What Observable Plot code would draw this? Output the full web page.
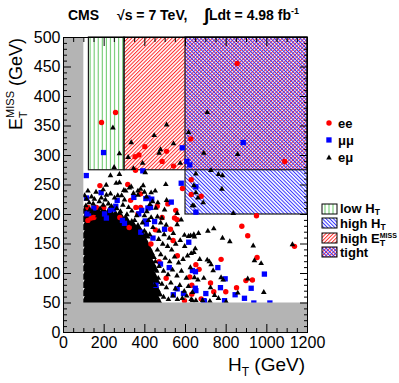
<!DOCTYPE html>
<html><head><meta charset="utf-8">
<script src="https://cdn.jsdelivr.net/npm/d3@7"></script>
<script src="https://cdn.jsdelivr.net/npm/@observablehq/plot@0.6"></script>
<style>
html,body{margin:0;padding:0;background:#fff;}
#wrap{position:relative;width:399px;height:383px;overflow:hidden;font-family:"Liberation Sans",Arial,sans-serif;}
#wrap svg{position:absolute;left:0;top:0;}
</style></head><body>
<svg width="0" height="0" style="position:absolute">
 <defs>
  <pattern id="hatchRed" x="0" y="0" width="2.6" height="4" patternUnits="userSpaceOnUse" patternTransform="rotate(45)">
   <rect x="0" y="0" width="1" height="4" fill="rgb(255,40,40)"/>
  </pattern>
  <pattern id="hatchBlue" x="0" y="0" width="2.6" height="4" patternUnits="userSpaceOnUse" patternTransform="rotate(-45)">
   <rect x="0" y="0" width="1" height="4" fill="rgb(50,50,255)"/>
  </pattern>
 </defs>
</svg>
<div id="wrap"></div>
<script>
// ---- data (HT, MET in GeV) ----
const vetoHT = 100;      // HT < 100 GeV region (grey)
const vetoMET = 50;      // MET < 50 GeV region (grey)
const lowHTBox  = {x1: 125, x2: 300,  y1: 275, y2: 500};
const highMETBox = {x1: 300, x2: 1200, y1: 275, y2: 500};
const highHTBox = {x1: 600, x2: 1200, y1: 200, y2: 500};

const eePoints = [
 [854,456],[256,373],[187,356],[400,315],[626,328],[507,307],[371,301],[352,298],[1088,290],[485,290],[541,282],[354,275],
 [179,249],[316,251],[585,244],[356,212],[162,212],[552,207],[136,194],[120,190],[366,201],[546,194],[526,175],[323,178],
 [628,259],[628,234],[677,231],[949,198],[877,180],[906,164],[1136,146],[775,124],[952,127],[651,115],[667,107],[723,84],
 [897,88],[929,89],[851,76],[798,69],[631,80],[631,65],[739,69],[677,57],
 [539,156],[485,195],[461,214],[379,212],[277,195],[198,212],[149,195],[120,212],[330,224],[379,235],[513,218],[559,191],
 [452,174],[621,94],[595,54],[470,120],[505,92],[430,150],[560,130]
];
const mumuPoints = [
 [197,305],[584,313],[884,322],[607,290],[621,284],[390,274],
 [112,266],[579,253],[185,237],[405,227],[434,226],[264,224],[530,221],[415,211],[385,207],[257,214],[231,207],[244,209],
 [123,202],[202,201],[211,194],[448,188],[408,184],[497,175],[651,247],[651,204],[759,110],[634,105],[988,99],[795,91],
 [772,76],[923,75],[651,71],[700,66],[844,64],[890,58],[936,50],[1015,50],[693,53],[792,54],
 [113,228],[116,201],[149,211],[290,190],[346,229],[415,228],[428,212],[370,201],[402,189],[616,153],[649,103],[690,54],
 [648,75],[559,74],[540,64],[590,66],[477,116],[440,160],[520,110],[455,80],[380,170],[300,185]
];
const emuPoints = [
 [243,347],[275,303],[249,280],[707,373],[507,352],[446,334],[333,322],[541,320],[615,339],[477,310],[470,304],[318,297],
 [690,304],[856,302],[389,287],[574,287],[344,278],[725,275],
 [231,266],[275,268],[402,271],[259,253],[275,254],[333,247],[324,245],[392,249],[503,251],[195,242],[297,241],[366,240],
 [379,243],[398,238],[431,237],[451,240],[211,233],[231,235],[267,232],[251,228],[366,233],[113,226],[152,226],[221,218],
 [464,220],[507,224],[425,217],[454,211],[129,208],[195,216],[497,208],[559,202],[169,198],[398,198],[431,195],[484,194],
 [559,183],[579,191],[595,165],[615,163],[762,268],[782,266],[651,269],[641,249],[779,243],[651,237],[661,228],[687,220],
 [634,215],[641,215],[835,202],[739,176],[710,172],[664,168],[641,166],[625,164],[782,160],[818,154],[933,147],[1126,149],
 [644,162],[648,142],[641,136],[628,134],[939,122],[972,117],[670,124],[707,123],[717,120],[726,115],[736,105],[690,92],
 [644,93],[661,89],[775,93],[785,89],[906,91],[723,76],[985,68],[634,68],[743,63],[762,58],[857,67],[651,54],[634,54],
 [684,54],[720,53],[800,52],
 [462,196],[478,186],[505,182],[470,172],[495,166],[520,160],[540,168],[468,158],[488,150],[512,146],[532,140],[552,150],
 [574,156],[596,146],[462,140],[478,132],[500,126],[522,120],[546,128],[566,118],[588,124],[610,130],[470,112],[492,104],
 [514,98],[536,106],[558,96],[580,104],[604,92],[624,110],[466,92],[484,82],[506,76],[528,84],[550,74],[572,80],[594,70],
 [614,78],[470,64],[492,60],[516,56],[538,62],[560,56],[584,58],[606,62],[628,56],[452,120],[458,104],[448,80],[456,60],
 [140,205],[180,210],[240,200],[280,205],[320,212],[350,190],[410,205],[210,250],[300,225],[120,240],[160,238],
 [110,215],[126,220],[146,218],[176,222],[206,225],[236,214],[262,210],[292,216],[312,200],[336,206],[360,198],[388,186],
 [418,190],[440,178],[340,184],[368,178],[398,172],[424,166],[104,232],[138,230],[186,228],[286,232],[306,240],[344,236],
 [408,230],[438,222]
];
// saturated e-mu core (rows of MET with the HT values that fill it)
const emuCoreRows = [
 [52, [106,126,146,166,186,206,226,246,266,286,306,326,346,366,386,406,426,446,466]],
 [59, [116,136,156,176,196,216,236,256,276,296,316,336,356,376,396,416,436,456]],
 [66, [106,126,146,166,186,206,226,246,266,286,306,326,346,366,386,406,426,446,466]],
 [73, [116,136,156,176,196,216,236,256,276,296,316,336,356,376,396,416,436,456]],
 [80, [106,126,146,166,186,206,226,246,266,286,306,326,346,366,386,406,426,446]],
 [87, [116,136,156,176,196,216,236,256,276,296,316,336,356,376,396,416,436,456]],
 [94, [106,126,146,166,186,206,226,246,266,286,306,326,346,366,386,406,426,446]],
 [101,[116,136,156,176,196,216,236,256,276,296,316,336,356,376,396,416,436]],
 [108,[106,126,146,166,186,206,226,246,266,286,306,326,346,366,386,406,426,446]],
 [115,[116,136,156,176,196,216,236,256,276,296,316,336,356,376,396,416,436]],
 [122,[106,126,146,166,186,206,226,246,266,286,306,326,346,366,386,406,426]],
 [129,[116,136,156,176,196,216,236,256,276,296,316,336,356,376,396,416,436]],
 [136,[106,126,146,166,186,206,226,246,266,286,306,326,346,366,386,406,426]],
 [143,[116,136,156,176,196,216,236,256,276,296,316,336,356,376,396,416]],
 [150,[106,126,146,166,186,206,226,246,266,286,306,326,346,366,386,406]],
 [157,[116,136,156,176,196,216,236,256,276,296,316,336,356,376,396]],
 [164,[106,126,146,166,186,206,226,246,266,286,306,326,346,366,386,406]],
 [171,[116,136,156,176,196,216,236,256,276,296,316,336,356,376]],
 [178,[106,126,146,166,186,206,226,246,266,286,306,326,346,366]],
 [185,[116,136,156,176,196,216,236,256,276,296,316,336]],
 [192,[106,126,146,166,186,206,226,246,266,286,306]],
 [199,[116,136,156,176,196,216,236,256,276]],
 [206,[106,126,146,166,196,226]]
];
const emuCore = emuCoreRows.flatMap(([met, hts]) => hts.map(ht => [ht, met]));

// axis ticks
const xMajor = [0,200,400,600,800,1000,1200];
const yMajor = [0,50,100,150,200,250,300,350,400,450,500];
const xMinor = d3.range(0, 1201, 50).filter(v => v % 200);
const yMinor = d3.range(0, 501, 10).filter(v => v % 50);
// vertical hatch lines of the low-HT box (decoration)
const greenHatch = d3.range(lowHTBox.x1 + 6, lowHTBox.x2, 20);

function tickAxis(k, anchor, values, size) {
  const o = {anchor, tickSize: size, tickFormat: () => "", label: null, stroke: "black", strokeWidth: 1};
  if (anchor === "bottom") o.dy = -size;
  if (anchor === "top") o.dy = size;
  if (anchor === "left") o.dx = size;
  if (anchor === "right") o.dx = -size;
  return k === "x" ? Plot.axisX(values, o) : Plot.axisY(values, o);
}

const chart = Plot.plot({
  width: 399, height: 383,
  marginLeft: 63, marginRight: 92, marginTop: 37, marginBottom: 51,
  x: {domain: [0, 1200]},
  y: {domain: [0, 500]},
  style: {fontFamily: "'Liberation Sans', Arial, sans-serif", fontSize: "16px", background: "transparent", overflow: "visible"},
  marks: [
    Plot.ruleX(greenHatch, {y1: lowHTBox.y1, y2: lowHTBox.y2, stroke: "#7fd07f", strokeWidth: 1.2}),
    Plot.rect([highMETBox], {x1: "x1", x2: "x2", y1: "y1", y2: "y2", fill: "url(#hatchRed)"}),
    Plot.rect([highHTBox], {x1: "x1", x2: "x2", y1: "y1", y2: "y2", fill: "url(#hatchBlue)"}),
    Plot.rect([lowHTBox, highMETBox, highHTBox], {x1: "x1", x2: "x2", y1: "y1", y2: "y2", fill: "none", stroke: "#1a1a1a", strokeWidth: 1.2}),
    Plot.dot(emuCore, {symbol: "triangle", r: 3.5, fill: "black", stroke: "none"}),
    Plot.dot(eePoints, {symbol: "circle", r: 2.7, fill: "#ff0000", stroke: "none"}),
    Plot.dot(mumuPoints, {symbol: "square", r: 3.0, fill: "#0000ff", stroke: "none"}),
    Plot.dot(emuPoints, {symbol: "triangle", r: 2.1, fill: "black", stroke: "none"}),
    Plot.rect([{x1: 0, x2: vetoHT, y1: 0, y2: 500}, {x1: 0, x2: 1200, y1: 0, y2: vetoMET}], {x1: "x1", x2: "x2", y1: "y1", y2: "y2", fill: "#b4b4b4"}),
    tickAxis("x", "bottom", xMajor, 8), tickAxis("x", "bottom", xMinor, 4),
    tickAxis("x", "top", xMajor, 8), tickAxis("x", "top", xMinor, 4),
    tickAxis("y", "left", yMajor, 8), tickAxis("y", "left", yMinor, 4),
    tickAxis("y", "right", yMajor, 8), tickAxis("y", "right", yMinor, 4),
    Plot.axisX(xMajor, {anchor: "bottom", tickSize: 0, tickPadding: 4, label: null, fill: "black", tickFormat: d3.format("d")}),
    Plot.axisY(yMajor, {anchor: "left", tickSize: 0, tickPadding: 3, label: null, fill: "black", tickFormat: d3.format("d")}),
    Plot.frame({stroke: "black", strokeWidth: 1})
  ]
});
const wrap = document.getElementById("wrap");
wrap.appendChild(chart);

// titles and legends (overlay)
const ov = `
<svg width="399" height="383" xmlns="http://www.w3.org/2000/svg" font-family="'Liberation Sans', Arial, sans-serif">
 <g font-weight="bold" font-size="14" fill="black">
  <text x="68" y="20">CMS</text>
  <text x="117" y="20">√s = 7 TeV,</text>
  <text x="204" y="20"><tspan font-size="18" dy="1">∫</tspan><tspan dy="-1">Ldt = 4.98 fb</tspan><tspan font-size="9" dy="-6">-1</tspan></text>
 </g>
 <text x="305" y="371" text-anchor="end" font-size="19">H<tspan font-size="12" dy="5">T</tspan><tspan dy="-5"> (GeV)</tspan></text>
 <g transform="translate(22,38) rotate(-90)">
  <text x="0" y="0" text-anchor="end" font-size="18">E<tspan font-size="11" dy="5">T</tspan><tspan font-size="11" dx="-6.7" dy="-13">MISS</tspan><tspan dy="8"> (GeV)</tspan></text>
 </g>
 <g font-weight="bold" font-size="13" fill="black">
  <circle cx="329" cy="123" r="2.7" fill="#ff0000"/>
  <text x="338" y="127.5">ee</text>
  <rect x="326.3" y="137.3" width="5.3" height="5.3" fill="#0000ff"/>
  <text x="338" y="144.5">μμ</text>
  <path d="M329,154.6 L331.8,159.5 L326.2,159.5 Z" fill="black"/>
  <text x="338" y="161.5">eμ</text>

  <g stroke="#7fd07f" stroke-width="1.2">
   <line x1="325" y1="204" x2="325" y2="214"/><line x1="329" y1="204" x2="329" y2="214"/><line x1="333" y1="204" x2="333" y2="214"/>
  </g>
  <rect x="322" y="204" width="15" height="10" fill="none" stroke="black" stroke-width="1"/>
  <text x="340" y="213">low H<tspan font-size="8.5" dy="2">T</tspan></text>
  <rect x="322" y="218" width="15" height="10" fill="url(#hatchBlue)" stroke="black" stroke-width="1"/>
  <text x="340" y="227.5">high H<tspan font-size="8.5" dy="2">T</tspan></text>
  <rect x="322" y="233" width="15" height="10" fill="url(#hatchRed)" stroke="black" stroke-width="1"/>
  <text x="340" y="242.5">high E<tspan font-size="9" dy="3">T</tspan><tspan font-size="7" dx="-5.5" dy="-7.5">MISS</tspan></text>
  <rect x="322" y="247" width="15" height="10" fill="url(#hatchRed)"/>
  <rect x="322" y="247" width="15" height="10" fill="url(#hatchBlue)" stroke="black" stroke-width="1"/>
  <text x="340" y="256.5">tight</text>
 </g>
</svg>`;
wrap.insertAdjacentHTML("beforeend", ov);
</script>
</body></html>
